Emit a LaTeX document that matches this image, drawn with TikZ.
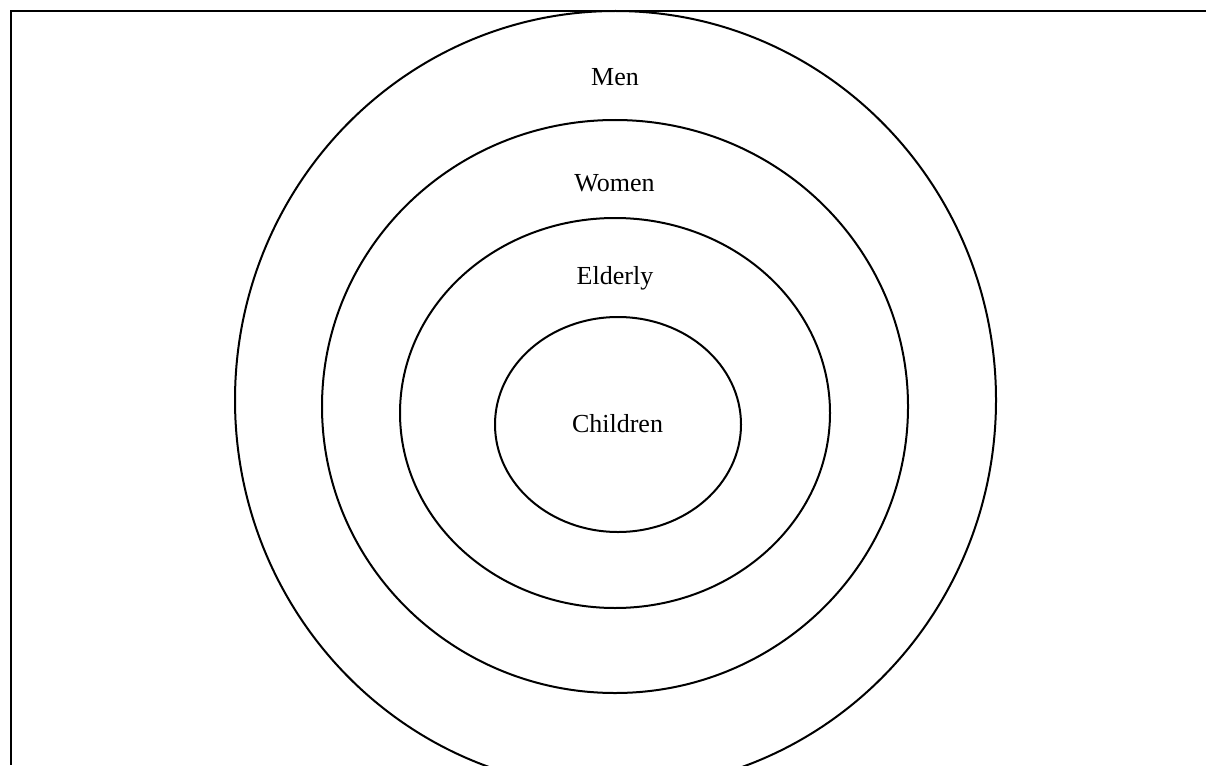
\documentclass[tikz,border=0pt]{standalone}
\usepackage{fontspec}
\setmainfont{Liberation Serif}
\begin{document}
\begin{tikzpicture}[x=1pt,y=-1pt,
  ring/.style={draw, line width=2pt},
  lbl/.style={font=\fontsize{26}{30}\selectfont, anchor=base, inner sep=0pt}]
\useasboundingbox (0,0) rectangle (1206,765);
\draw[line width=1.4pt] (1206,11) -- (11,11);
\draw[line width=2.4pt] (11,10.3) -- (11,765);
\draw[ring] (615.5,400) ellipse [x radius=380.5pt, y radius=389pt];
\draw[ring] (615,406.5) ellipse [x radius=293pt, y radius=286.5pt];
\draw[ring] (615,413) ellipse [x radius=215pt, y radius=195pt];
\draw[ring] (618,424.5) ellipse [x radius=123pt, y radius=107.5pt];
\node[lbl] (men) at (615,86) {Men};
\node[lbl] (women) at (614.5,191) {Women};
\node[lbl] (elderly) at (615,284) {Elderly};
\node[lbl] (children) at (617.5,432) {Children};
\end{tikzpicture}
\end{document}
